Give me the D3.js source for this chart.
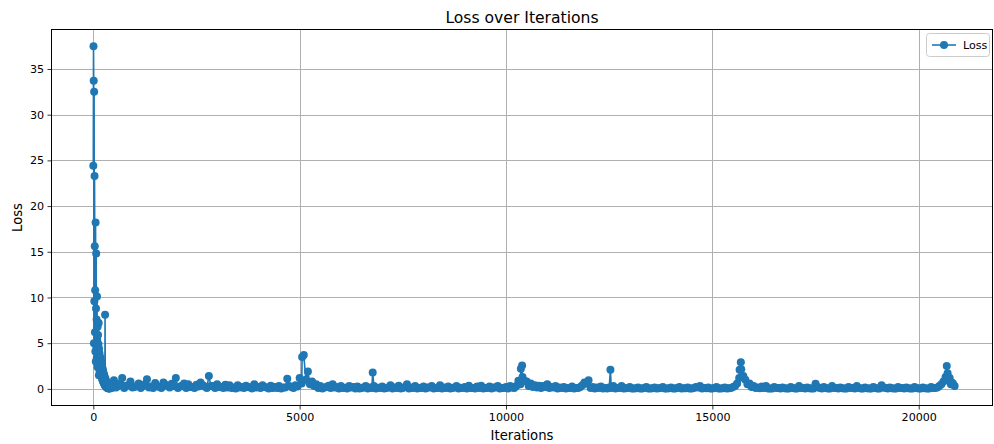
<!DOCTYPE html>
<html><head><meta charset="utf-8">
<script src="https://cdn.jsdelivr.net/npm/d3@7"></script>
<style>body{margin:0;background:#fff} text{font-family:"DejaVu Sans",sans-serif;fill:#000}</style>
</head><body><svg id="chart" width="994" height="444"></svg>
<script>
// ---- data ----
const earlyStep = 5;            // iterations 0..395 logged every 5
const earlyLoss = [
 24.4, 37.5, 33.7, 5.0, 32.5, 9.6, 23.3, 15.6, 6.2, 10.8,
 4.1, 18.2, 3.0, 8.8, 14.8, 4.5, 7.6, 3.4, 10.1, 5.4,
 2.4, 6.8, 3.8, 5.9, 2.7, 4.9, 7.2, 1.5, 4.4, 2.2,
 3.9, 1.9, 3.5, 2.6, 1.8, 3.4, 1.6, 3.0, 1.4, 2.8,
 1.3, 2.6, 1.2, 2.4, 1.0, 2.2, 0.9, 2.0, 0.8, 1.8,
 0.7, 1.6, 0.6, 1.5, 0.5, 1.3, 0.4, 8.1, 0.35, 1.1,
 0.6, 0.25, 0.9, 0.2, 0.7, 0.15, 0.6, 0.12, 0.5, 0.1,
 0.45, 0.08, 0.35, 0.07, 0.3, 0.06, 0.25, 0.05, 0.2, 0.05
];
const lateStart = 400, lateStep = 100;   // iterations 400, 500, ... 20800
const lateLoss = [
 0.25, 0.95, 0.3, 1.2, 0.35, 0.8, 0.2, 0.6, 0.3, 1.05,
 0.25, 0.65, 0.2, 0.7, 0.3, 0.55, 1.2, 0.25, 0.6, 0.5,
 0.2, 0.45, 0.7, 0.25, 1.4, 0.3, 0.5, 0.2, 0.45, 0.4,
 0.15, 0.4, 0.2, 0.35, 0.15, 0.5, 0.2, 0.4, 0.15, 0.35,
 0.2, 0.3, 0.15, 1.1, 0.2, 0.4, 1.2, 3.7, 1.9, 0.8,
 0.5, 0.3, 0.15, 0.35, 0.5, 0.2, 0.3, 0.12, 0.3, 0.2,
 0.25, 0.1, 0.3, 0.15, 0.3, 0.12, 0.25, 0.1, 0.4, 0.15,
 0.35, 0.1, 0.5, 0.15, 0.3, 0.1, 0.25, 0.15, 0.3, 0.1,
 0.4, 0.15, 0.25, 0.1, 0.3, 0.12, 0.2, 0.35, 0.1, 0.25,
 0.35, 0.1, 0.25, 0.15, 0.3, 0.1, 0.2, 0.3, 0.1, 0.9,
 1.3, 0.8, 0.6, 0.4, 0.35, 0.3, 0.5, 0.2, 0.3, 0.15,
 0.2, 0.1, 0.25, 0.1, 0.2, 0.7, 0.95, 0.2, 0.15, 0.25,
 0.1, 0.15, 0.3, 0.1, 0.3, 0.08, 0.2, 0.05, 0.15, 0.05,
 0.2, 0.05, 0.15, 0.08, 0.2, 0.05, 0.15, 0.05, 0.2, 0.08,
 0.15, 0.05, 0.2, 0.3, 0.1, 0.15, 0.05, 0.2, 0.05, 0.15,
 0.08, 0.2, 0.6, 2.15, 1.0, 0.6, 0.3, 0.15, 0.25, 0.3,
 0.05, 0.2, 0.1, 0.15, 0.05, 0.2, 0.05, 0.3, 0.1, 0.15,
 0.05, 0.55, 0.1, 0.2, 0.05, 0.3, 0.1, 0.15, 0.05, 0.2,
 0.1, 0.3, 0.05, 0.15, 0.05, 0.2, 0.05, 0.4, 0.1, 0.15,
 0.05, 0.2, 0.1, 0.15, 0.05, 0.2, 0.05, 0.15, 0.05, 0.2,
 0.1, 0.3, 0.8, 1.7, 0.7
];
const midStart = 450;                     // iterations 450, 550, ... 20750
const midLoss = [
 0.1, 0.15, 0.6, 0.1, 0.4, 0.15, 0.3, 0.1, 0.5, 0.15,
 0.1, 0.3, 0.1, 0.45, 0.15, 0.3, 0.1, 0.35, 0.1, 0.2,
 0.1, 0.25, 0.4, 0.1, 0.3, 0.1, 0.2, 0.1, 0.15, 0.1,
 0.05, 0.15, 0.1, 0.2, 0.05, 0.15, 0.1, 0.2, 0.05, 0.1,
 0.1, 0.05, 0.15, 0.3, 0.1, 0.25, 0.6, 1.0, 0.5, 0.3,
 0.1, 0.05, 0.2, 0.1, 0.15, 0.05, 0.1, 0.05, 0.15, 0.05,
 0.05, 0.15, 0.05, 0.1, 0.05, 0.1, 0.05, 0.15, 0.05, 0.1,
 0.05, 0.2, 0.05, 0.1, 0.05, 0.1, 0.05, 0.15, 0.05, 0.1,
 0.05, 0.1, 0.05, 0.15, 0.05, 0.1, 0.05, 0.1, 0.05, 0.1,
 0.05, 0.1, 0.05, 0.15, 0.05, 0.1, 0.05, 0.15, 0.3, 0.5,
 0.9, 0.3, 0.2, 0.15, 0.1, 0.2, 0.1, 0.15, 0.05, 0.1,
 0.05, 0.1, 0.05, 0.1, 0.4, 0.6, 0.1, 0.05, 0.1, 0.05,
 0.05, 0.1, 0.05, 0.1, 0.05, 0.1, 0.03, 0.08, 0.03, 0.1,
 0.03, 0.08, 0.03, 0.1, 0.03, 0.08, 0.03, 0.1, 0.03, 0.08,
 0.03, 0.1, 0.15, 0.05, 0.08, 0.03, 0.1, 0.03, 0.08, 0.03,
 0.1, 0.3, 1.2, 1.4, 0.5, 0.2, 0.1, 0.08, 0.1, 0.05,
 0.03, 0.1, 0.05, 0.08, 0.03, 0.1, 0.03, 0.1, 0.05, 0.08,
 0.03, 0.2, 0.05, 0.1, 0.03, 0.1, 0.05, 0.08, 0.03, 0.1,
 0.05, 0.1, 0.03, 0.08, 0.03, 0.1, 0.03, 0.15, 0.05, 0.08,
 0.03, 0.1, 0.05, 0.08, 0.03, 0.1, 0.03, 0.08, 0.03, 0.1,
 0.15, 0.5, 1.3, 1.2
];
const extraIter = [5060, 6770, 10360, 10390, 12530, 15660, 15690, 20660, 20680, 20780, 20830, 20870];
const extraLoss = [3.5, 1.8, 2.2, 2.55, 2.1, 2.1, 2.9, 1.1, 2.5, 0.5, 0.6, 0.3];
const xTicks = [0, 5000, 10000, 15000, 20000];
const yTicks = [0, 5, 10, 15, 20, 25, 30, 35];
const seriesName = "Loss";

// ---- assemble ----
const data = [];
earlyLoss.forEach((v, i) => data.push({it: i * earlyStep, loss: v}));
lateLoss.forEach((v, i) => data.push({it: lateStart + i * lateStep, loss: v}));
midLoss.forEach((v, i) => data.push({it: midStart + i * lateStep, loss: v}));
extraIter.forEach((it, i) => data.push({it, loss: extraLoss[i]}));
data.sort((a, b) => a.it - b.it);

const L = 51, R = 993, T = 29, B = 406;
const color = "#1f77b4";
const svg = d3.select("#chart");

const x = d3.scaleLinear().domain([-1025, 21800]).range([L, R]);
const y = d3.scaleLinear().domain([-1.875, 39.375]).range([B, T]);

// grid
const g = svg.append("g");
g.selectAll(".gx").data(xTicks).join("line")
  .attr("x1", d => Math.round(x(d)) + 0.5).attr("x2", d => Math.round(x(d)) + 0.5)
  .attr("y1", T).attr("y2", B).attr("stroke", "#b0b0b0").attr("stroke-width", 1);
g.selectAll(".gy").data(yTicks).join("line")
  .attr("y1", d => Math.round(y(d)) + 0.5).attr("y2", d => Math.round(y(d)) + 0.5)
  .attr("x1", L).attr("x2", R).attr("stroke", "#b0b0b0").attr("stroke-width", 1);

// series
svg.append("clipPath").attr("id", "clip").append("rect")
  .attr("x", L).attr("y", T).attr("width", R - L).attr("height", B - T);
const plot = svg.append("g").attr("clip-path", "url(#clip)");
plot.append("path").datum(data)
  .attr("d", d3.line().x(d => x(d.it)).y(d => y(d.loss)))
  .attr("fill", "none").attr("stroke", color).attr("stroke-width", 1.6)
  .attr("stroke-linejoin", "round");
plot.selectAll("circle").data(data).join("circle")
  .attr("cx", d => x(d.it)).attr("cy", d => y(d.loss)).attr("r", 4)
  .attr("fill", color);

// axes
const xAxis = d3.axisBottom(x).tickValues(xTicks).tickFormat(d3.format("d")).tickSize(3.5).tickPadding(3.5);
const yAxis = d3.axisLeft(y).tickValues(yTicks).tickFormat(d3.format("d")).tickSize(3.5).tickPadding(3.5);
const gx = svg.append("g").attr("transform", `translate(0,${B})`).call(xAxis);
const gy = svg.append("g").attr("transform", `translate(${L},0)`).call(yAxis);
[gx, gy].forEach(a => {
  a.select(".domain").remove();
  a.selectAll("line").attr("stroke", "#000").attr("stroke-width", 0.8);
  a.selectAll("text").style("font-size", "11.1px").style("font-family", "DejaVu Sans").attr("fill", "#000");
});

// spines
svg.append("rect").attr("x", L + 0.5).attr("y", T + 0.5).attr("width", R - L - 1).attr("height", B - T - 1)
  .attr("fill", "none").attr("stroke", "#000").attr("stroke-width", 1);

// labels
svg.append("text").attr("x", (L + R) / 2).attr("y", 23).attr("text-anchor", "middle")
  .style("font-size", "15.6px").text("Loss over Iterations");
svg.append("text").attr("x", (L + R) / 2).attr("y", 440).attr("text-anchor", "middle")
  .style("font-size", "13.2px").text("Iterations");
svg.append("text").attr("transform", `translate(22,${(T + B) / 2}) rotate(-90)`).attr("text-anchor", "middle")
  .style("font-size", "13.2px").text("Loss");

// legend
const lg = svg.append("g");
lg.append("rect").attr("x", 926.5).attr("y", 33.5).attr("width", 63).attr("height", 23).attr("rx", 3)
  .attr("fill", "#fff").attr("fill-opacity", 0.8).attr("stroke", "#cccccc");
lg.append("line").attr("x1", 932).attr("x2", 956).attr("y1", 45).attr("y2", 45)
  .attr("stroke", color).attr("stroke-width", 1.6);
lg.append("circle").attr("cx", 944).attr("cy", 45).attr("r", 4).attr("fill", color);
lg.append("text").attr("x", 963).attr("y", 49).style("font-size", "11.1px").text(seriesName);
</script></body></html>
